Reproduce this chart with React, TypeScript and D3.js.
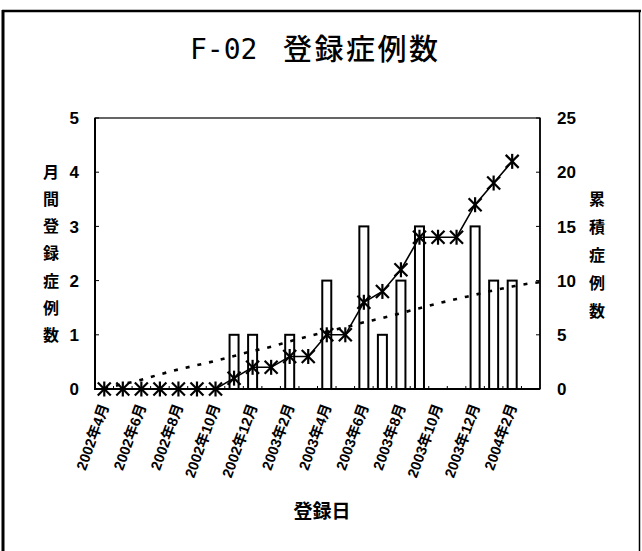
import React from "react";
import * as d3 from "d3";

// Registration months (24 slots on the category axis)
const months: string[] = [
  "2002年4月", "2002年5月", "2002年6月", "2002年7月", "2002年8月", "2002年9月",
  "2002年10月", "2002年11月", "2002年12月", "2003年1月", "2003年2月", "2003年3月",
  "2003年4月", "2003年5月", "2003年6月", "2003年7月", "2003年8月", "2003年9月",
  "2003年10月", "2003年11月", "2003年12月", "2004年1月", "2004年2月", "2004年3月",
];

// Cases registered each month (left axis)
const monthlyCases: number[] = [0, 0, 0, 0, 0, 0, 0, 1, 1, 0, 1, 0, 2, 0, 3, 1, 2, 3, 0, 0, 3, 2, 2];

// Cumulative cases (right axis)
const cumulativeCases: number[] = [0, 0, 0, 0, 0, 0, 0, 1, 2, 2, 3, 3, 5, 5, 8, 9, 11, 14, 14, 14, 17, 19, 21];

// Trend line positions (month index, left-axis value)
const trendIndex: number[] = [0, 1, 2, 3, 4, 5, 6, 7, 8, 9, 10, 11, 12, 13, 14, 15, 16, 17, 18, 19, 20, 21, 22, 23, 23.5];
const trendValue: number[] = [0.01, 0.09, 0.17, 0.27, 0.36, 0.44, 0.52, 0.61, 0.7, 0.78, 0.88, 0.97, 1.06, 1.14, 1.23, 1.31, 1.4, 1.49, 1.58, 1.66, 1.74, 1.82, 1.89, 1.95, 1.97];

const leftTicks: number[] = [0, 1, 2, 3, 4, 5];
const rightTicks: number[] = [0, 5, 10, 15, 20, 25];

const leftTitle = "月間登録症例数";
const rightTitle = "累積症例数";
const titleCode = "F-02";
const titleText = "登録症例数";
const xTitle = "登録日";

const W = 642;
const H = 551;
const plot = { left: 95, right: 540, top: 118, bottom: 389 };

const numFont = "'Liberation Sans', Arial, 'Noto Sans CJK JP', sans-serif";
const cjkFont = "'Noto Sans CJK JP', 'Liberation Sans', sans-serif";
const monoFont = "'DejaVu Sans Mono', 'Liberation Mono', monospace";

export default function App() {
  const x = d3.scaleLinear().domain([-0.5, months.length - 0.5]).range([plot.left, plot.right]);
  const yL = d3.scaleLinear().domain([0, 5]).range([plot.bottom, plot.top]);
  const yR = d3.scaleLinear().domain([0, 25]).range([plot.bottom, plot.top]);

  const cumLine = d3
    .line<number>()
    .x((_, i) => x(i))
    .y((d) => yR(d))(cumulativeCases) as string;

  const trendLine = d3
    .line<number>()
    .x((_, i) => x(trendIndex[i]))
    .y((d) => yL(d))
    .curve(d3.curveMonotoneX)(trendValue) as string;

  const barW = 9;

  return (
    <svg
      width={W}
      height={H}
      style={{ position: "absolute", left: 0, top: 0, background: "#fff" }}
    >
      {/* outer frame */}
      <line x1={3} y1={10} x2={3} y2={H} stroke="#000" strokeWidth={3} />
      <line x1={2} y1={11} x2={641} y2={11} stroke="#000" strokeWidth={2.5} />
      <line x1={639.5} y1={10} x2={639.5} y2={H} stroke="#000" strokeWidth={1.5} />

      {/* title */}
      <text x={190} y={59} fontFamily={monoFont} fontSize={28}>
        {titleCode}
      </text>
      <text
        x={283}
        y={60}
        fontFamily={cjkFont}
        fontSize={29}
        fontWeight={500}
        textLength={155}
        lengthAdjust="spacing"
      >
        {titleText}
      </text>

      {/* plot frame */}
      <rect
        x={plot.left}
        y={plot.top}
        width={plot.right - plot.left}
        height={plot.bottom - plot.top}
        fill="none"
        stroke="#000"
        strokeWidth={1.2}
      />
      <line x1={plot.left} y1={plot.top} x2={plot.left} y2={plot.bottom + 1} stroke="#000" strokeWidth={2} />
      <line x1={plot.left} y1={plot.bottom} x2={plot.right} y2={plot.bottom} stroke="#000" strokeWidth={2} />
      <line x1={plot.right} y1={plot.top} x2={plot.right} y2={plot.bottom} stroke="#000" strokeWidth={1.6} />

      {/* left axis */}
      {leftTicks.map((t) => (
        <g key={"l" + t}>
          <line x1={plot.left} x2={plot.left + 4} y1={yL(t)} y2={yL(t)} stroke="#000" strokeWidth={1} />
          <text
            x={79}
            y={yL(t)}
            dy="0.36em"
            textAnchor="end"
            fontFamily={numFont}
            fontWeight="bold"
            fontSize={17}
          >
            {t}
          </text>
        </g>
      ))}

      {/* right axis */}
      {rightTicks.map((t) => (
        <g key={"r" + t}>
          <line x1={plot.right - 4} x2={plot.right} y1={yR(t)} y2={yR(t)} stroke="#000" strokeWidth={1} />
          <text
            x={557}
            y={yR(t)}
            dy="0.36em"
            textAnchor="start"
            fontFamily={numFont}
            fontWeight="bold"
            fontSize={17}
          >
            {t}
          </text>
        </g>
      ))}

      {/* category boundary ticks */}
      {months.map((_, i) =>
        i === 0 ? null : (
          <line
            key={"xt" + i}
            x1={x(i - 0.5)}
            x2={x(i - 0.5)}
            y1={plot.bottom}
            y2={plot.bottom - 3}
            stroke="#000"
            strokeWidth={1}
          />
        )
      )}

      {/* axis titles */}
      {leftTitle.split("").map((c, i) => (
        <text
          key={"lt" + i}
          x={51}
          y={172 + i * 27.2}
          dy="0.36em"
          textAnchor="middle"
          fontFamily={cjkFont}
          fontWeight="bold"
          fontSize={16}
        >
          {c}
        </text>
      ))}
      {rightTitle.split("").map((c, i) => (
        <text
          key={"rt" + i}
          x={597}
          y={199 + i * 28}
          dy="0.36em"
          textAnchor="middle"
          fontFamily={cjkFont}
          fontWeight="bold"
          fontSize={16}
        >
          {c}
        </text>
      ))}

      {/* monthly bars */}
      {monthlyCases.map((v, i) =>
        v > 0 ? (
          <rect
            key={"b" + i}
            x={x(i) - barW / 2}
            y={yL(v)}
            width={barW}
            height={yL(0) - yL(v)}
            fill="#fff"
            stroke="#000"
            strokeWidth={2}
          />
        ) : null
      )}

      {/* trend line */}
      <path d={trendLine} fill="none" stroke="#000" strokeWidth={2.6} strokeDasharray="4,8" />

      {/* cumulative line with star markers */}
      <path d={cumLine} fill="none" stroke="#000" strokeWidth={1.6} />
      {cumulativeCases.map((v, i) => {
        const cx = x(i);
        const cy = yR(v);
        const s = 6.5;
        return (
          <g key={"m" + i} stroke="#000" strokeWidth={2.2}>
            <line x1={cx - s} y1={cy - s} x2={cx + s} y2={cy + s} />
            <line x1={cx - s} y1={cy + s} x2={cx + s} y2={cy - s} />
            <line x1={cx} y1={cy - s - 1} x2={cx} y2={cy + s + 1} />
          </g>
        );
      })}

      {/* category labels, every second month */}
      {months.map((m, i) =>
        i % 2 === 0 && i < cumulativeCases.length ? (
          <text
            key={"xl" + i}
            transform={`translate(${x(i) + 5},${406}) rotate(-70)`}
            textAnchor="end"
            fontFamily={numFont}
            fontWeight="bold"
            fontSize={14.5}
          >
            {m}
          </text>
        ) : null
      )}

      {/* x axis title */}
      <text
        x={322}
        y={511}
        dy="0.36em"
        textAnchor="middle"
        fontFamily={cjkFont}
        fontWeight="bold"
        fontSize={19}
      >
        {xTitle}
      </text>
    </svg>
  );
}
